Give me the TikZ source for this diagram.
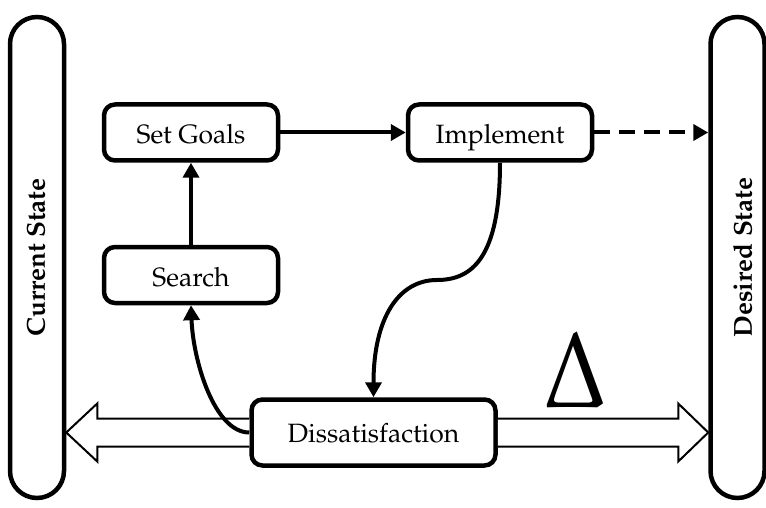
\documentclass[tikz,border=0pt]{standalone}
\usepackage[T1]{fontenc}
\usepackage{mathpazo}
\usetikzlibrary{arrows.meta}
\begin{document}
\begin{tikzpicture}[x=1pt,y=-1pt,
  box/.style={draw,line width=4.5pt,rounded corners=11pt,fill=white,
    font=\fontsize{26.5}{30}\selectfont,inner sep=0pt,
    text height=28pt,text depth=6pt},
  statebar/.style={draw,line width=4.5pt,rounded corners=27pt,fill=white,
    minimum width=54pt,minimum height=481pt,inner sep=0pt},
  statetext/.style={rotate=90,inner sep=0pt,font=\fontsize{26}{30}\selectfont\bfseries},
  flow/.style={line width=4pt,-{Triangle[length=15pt,width=16pt]}},
  gap/.style={line width=2pt,fill=white,line join=miter}]
\useasboundingbox (0,0) rectangle (766,508);

% the two states
\node[statebar] (cur) at (37,257.5) {};
\node[statebar] (des) at (737.5,257.5) {};
\node[statetext] (curtext) at ([xshift=-1pt]cur.center) {Current State};
\node[statetext] (destext) at ([xshift=5pt]des.center) {Desired State};

% process steps
\node[box,minimum width=174pt,minimum height=56pt] (goals) at (191,132.5) {Set Goals};
\node[box,minimum width=174pt,minimum height=56pt] (search) at (191,275) {Search};
\node[box,minimum width=184pt,minimum height=56pt] (impl) at (500,132.5) {Implement};
\node[box,minimum width=244pt,minimum height=66pt,text height=25pt] (diss) at (373.5,432.5) {Dissatisfaction};

% the gap between current and desired state
\draw[gap] ([yshift=-14pt]diss.west) -- ([xshift=31pt,yshift=-14pt]cur.east |- diss.west)
  -- ([xshift=31pt,yshift=-29pt]cur.east |- diss.west) -- (cur.east |- diss.west)
  -- ([xshift=31pt,yshift=29pt]cur.east |- diss.west) -- ([xshift=31pt,yshift=14pt]cur.east |- diss.west)
  -- ([yshift=14pt]diss.west);
\draw[gap] ([yshift=-14pt]diss.east) -- ([xshift=-30pt,yshift=-14pt]des.west |- diss.east)
  -- ([xshift=-30pt,yshift=-29pt]des.west |- diss.east) -- (des.west |- diss.east)
  -- ([xshift=-30pt,yshift=29pt]des.west |- diss.east) -- ([xshift=-30pt,yshift=14pt]des.west |- diss.east)
  -- ([yshift=14pt]diss.east);
\node[anchor=base,inner sep=0pt,font=\fontsize{108}{110}\selectfont] (delta) at (576,407)
  {\scalebox{0.85}[1]{$\Delta$}};

% connectors
\draw[flow] (search) -- (goals);
\draw[flow] (goals) -- (impl);
\draw[flow,dash pattern=on 16pt off 9pt] (impl.east) -- (des.west |- impl.east);
\draw[flow] (impl.south) .. controls +(0,95) and +(35,0) .. (437,280)
  .. controls +(-38,0) and +(0,-80) .. (diss.north);
\draw[flow] (diss.west) .. controls +(-35,0) and +(2,55) .. (search.south);
\end{tikzpicture}
\end{document}
